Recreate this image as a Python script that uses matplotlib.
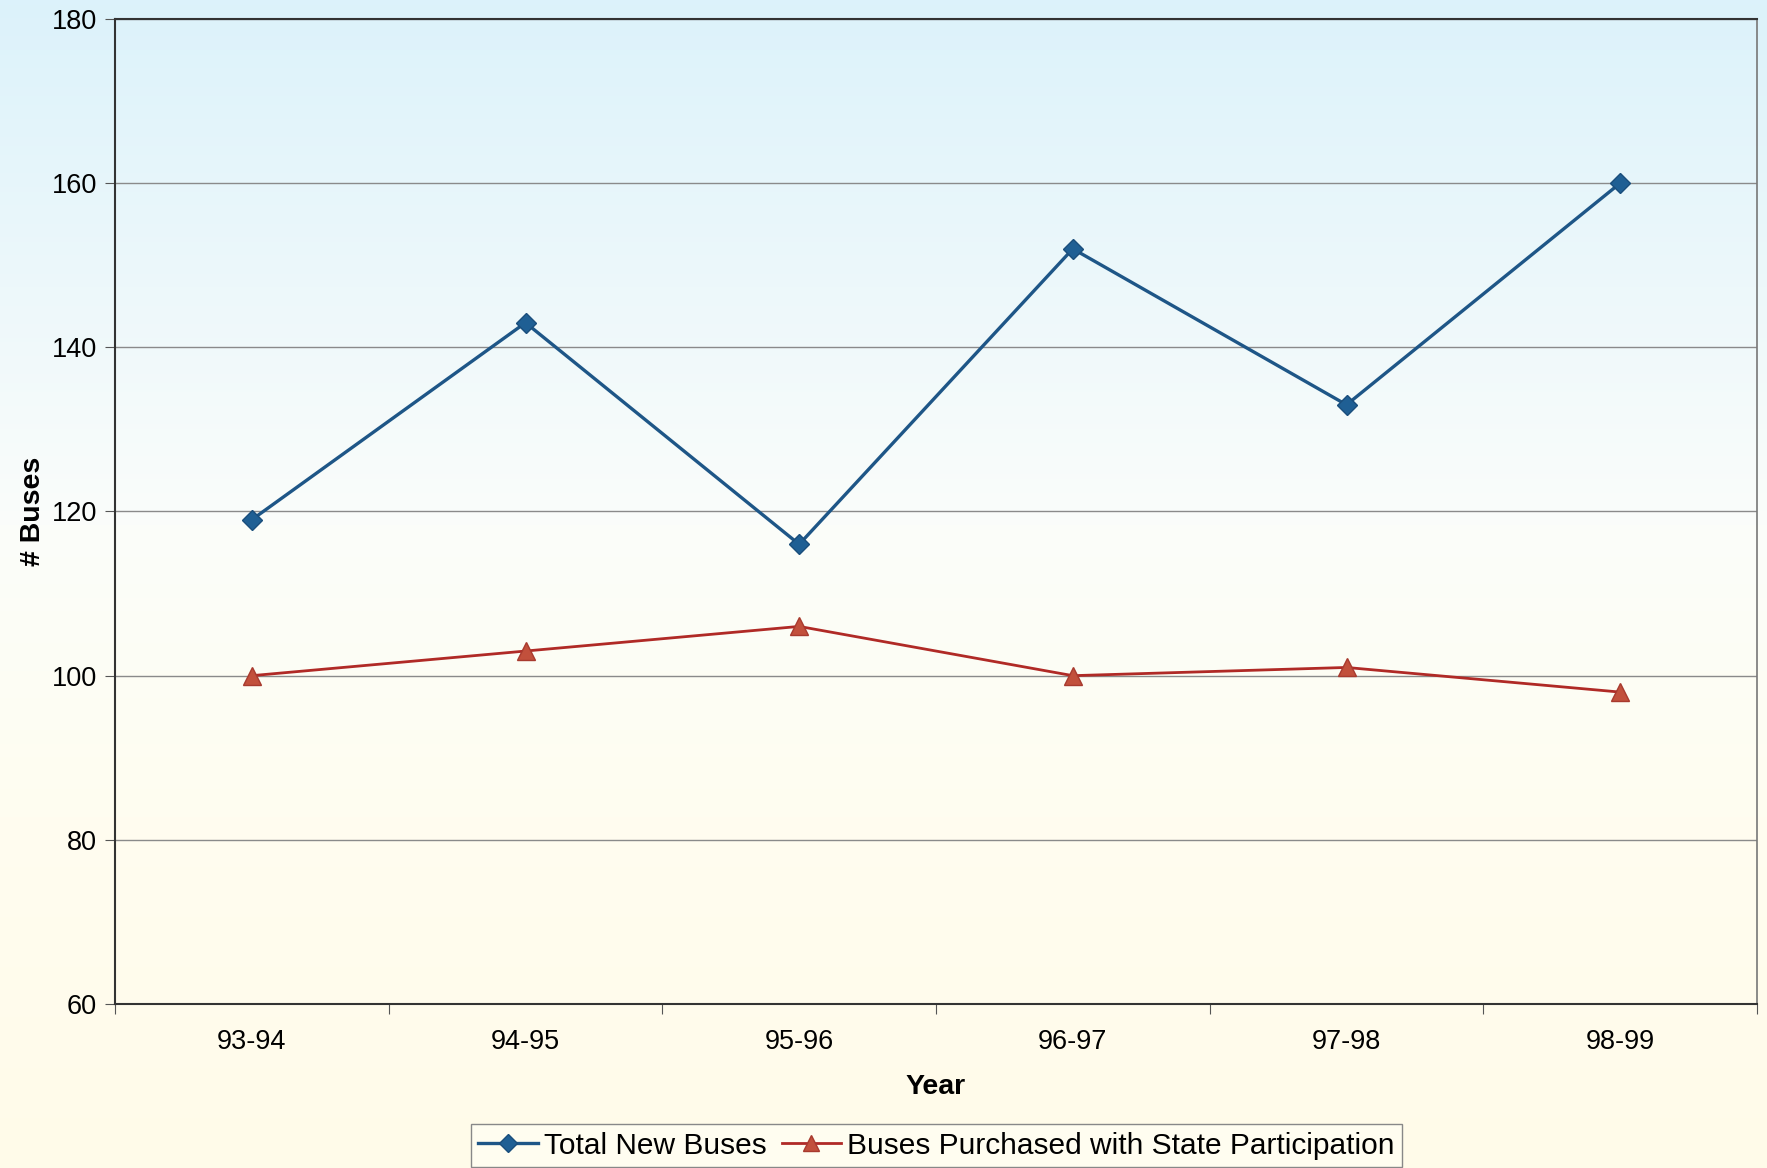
import numpy as np
import matplotlib.pyplot as plt
from matplotlib.colors import LinearSegmentedColormap

years = ["93-94", "94-95", "95-96", "96-97", "97-98", "98-99"]
total_new = [119, 143, 116, 152, 133, 160]
state_part = [100, 103, 106, 100, 101, 98]

plt.rcParams['font.family'] = ['Liberation Sans', 'DejaVu Sans']

fig = plt.figure(figsize=(17.67, 11.68), dpi=100)

# background gradient: pale cyan at the top, near white mid-way, cream at the bottom
bg = fig.add_axes([0, 0, 1, 1], zorder=-10)
cmap = LinearSegmentedColormap.from_list(
    "bg", [(0.0, "#dcf2fb"), (0.45, "#fbfdfa"), (0.7, "#fffdf0"), (1.0, "#fffbe9")])
grad = np.linspace(0, 1, 256).reshape(-1, 1)
bg.imshow(grad, aspect='auto', cmap=cmap, extent=[0, 1, 0, 1], origin='upper')
bg.axis('off')

ax = fig.add_axes([115 / 1767, 1 - 1004 / 1168, (1757 - 115) / 1767, (1004 - 19) / 1168])
ax.patch.set_alpha(0)

x = np.arange(len(years))
ax.plot(x, total_new, color='#1e5687', lw=2.4, marker='D', ms=10.5,
        mfc='#1f5f94', mec='#1a4e7c', label='Total New Buses', zorder=3)
ax.plot(x, state_part, color='#b02a26', lw=2.0, marker='^', ms=13.5,
        mfc='#c2503c', mec='#a83a2e', label='Buses Purchased with State Participation', zorder=3)

ax.set_xlim(-0.5, len(years) - 0.5)
ax.set_ylim(60, 180)
ax.set_yticks(range(60, 181, 20))
ax.set_xticks(np.arange(-0.5, len(years)), minor=False)
ax.set_xticklabels([])
ax.set_xticks(x, minor=True)
ax.set_xticklabels(years, minor=True)
ax.tick_params(axis='x', which='minor', length=0, pad=18, labelsize=19.5)
ax.tick_params(axis='x', which='major', length=7, color='#555555')
ax.tick_params(axis='y', length=7, color='#555555', labelsize=19.5, pad=6)

ax.yaxis.grid(True, color='#8a8a8a', lw=1.0)
ax.set_axisbelow(True)
for side in ['left', 'bottom', 'top']:
    ax.spines[side].set_color('#333333')
    ax.spines[side].set_linewidth(1.5)
ax.spines['right'].set_color('#777777')
ax.spines['right'].set_linewidth(1.2)

ax.set_xlabel('Year', fontsize=20.5, fontweight='bold', labelpad=14)
ax.set_ylabel('# Buses', fontsize=20.5, fontweight='bold', labelpad=4)

leg = fig.legend(loc='lower center', bbox_to_anchor=(0.53, -0.012), ncol=2, fontsize=21.5,
                 frameon=True, fancybox=False, handlelength=2.0, handletextpad=0.2,
                 columnspacing=0.5, borderpad=0.25, markerscale=0.9)
leg.get_frame().set_edgecolor('#888888')
leg.get_frame().set_facecolor('#fffdf0')
leg.get_frame().set_alpha(1)

fig.savefig('out.png', dpi=100)
